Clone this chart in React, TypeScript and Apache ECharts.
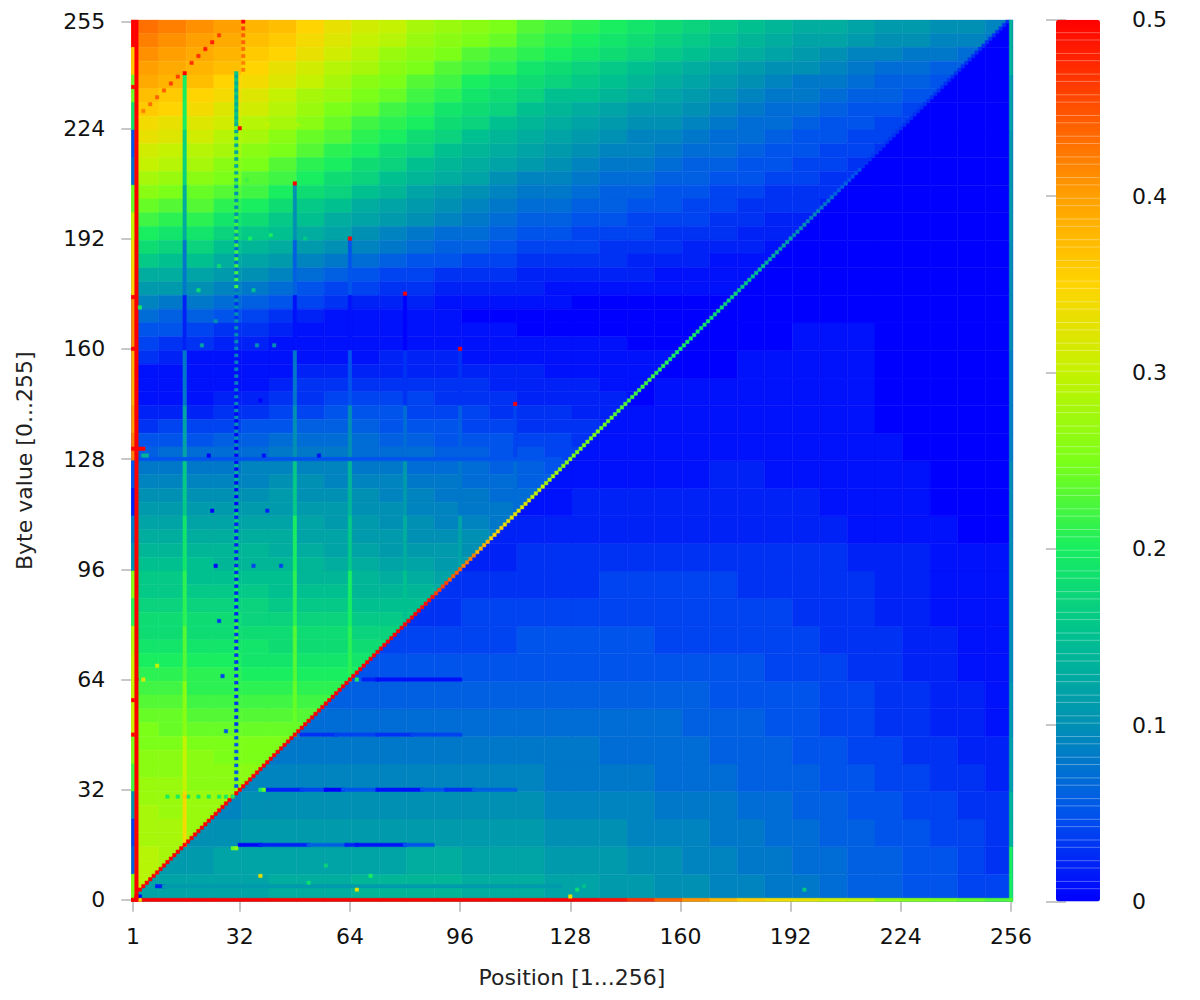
import React, { useEffect, useRef } from "react";
import * as echarts from "echarts";

const xTickLabels = [1, 32, 64, 96, 128, 160, 192, 224, 256];
const yTickLabels = [0, 32, 64, 96, 128, 160, 192, 224, 255];
const colorStops = ["#0000ff", "#0054ec", "#0090b4", "#00c090", "#18ee60", "#7cff18", "#c4f200", "#ffd400", "#ffa000", "#ff5000", "#ff0000"];

// Values are read in hundredths. Each row holds 8-position-wide cells; rows run from byte 252 down to byte 0 in steps of 4.
const upperRows = [
  [43,42,41,40,38,37,35,33,31,30,28,27,26,25,23,22,21,20,19,18,17,16,15,14,13,13,12,11,11,10,10,9],
  [42,41,40,39,37,36,34,32,30,29,27,26,25,24,22,21,20,19,18,17,16,15,14,13,12,12,11,10,10,9,9,8],
  [41,40,39,38,36,35,33,31,29,27,26,25,23,22,21,20,19,18,17,16,15,14,13,12,11,10,9,9,8,8,7],
  [40,39,38,37,35,33,31,29,28,26,25,23,22,21,19,18,17,16,15,14,13,12,11,10,10,9,8,7,7,6,6],
  [39,38,37,35,34,32,30,28,26,25,23,22,20,19,18,17,16,15,14,13,12,11,10,9,8,8,7,6,6,5],
  [37,36,35,34,32,30,28,27,25,24,22,21,19,18,17,15,15,14,13,12,11,10,9,8,8,7,6,6,5,5],
  [36,35,34,32,31,29,27,25,24,22,21,19,18,17,15,14,13,12,11,11,10,9,8,7,7,6,5,5,4],
  [34,33,32,31,29,28,26,24,22,21,20,18,17,15,14,13,12,11,10,10,9,8,7,7,6,5,5,4,4],
  [33,32,31,29,28,26,24,23,21,20,18,17,15,14,13,12,11,10,9,9,8,7,7,6,5,5,4,4],
  [31,30,29,28,26,25,23,21,20,18,17,15,14,13,12,11,10,9,9,8,7,7,6,5,5,4,4,3],
  [30,29,28,26,25,23,21,20,18,17,15,14,13,12,11,10,9,8,8,7,6,6,5,5,4,4,3],
  [28,27,26,25,23,22,20,18,17,15,14,13,12,10,9,9,8,7,7,6,6,5,5,4,4,3,3],
  [26,25,24,23,22,20,18,17,15,14,12,11,10,9,8,8,7,6,6,5,5,4,4,3,3,3],
  [24,23,23,21,20,18,16,15,13,12,11,10,9,8,7,7,6,6,5,5,4,4,3,3,3,2],
  [22,21,21,19,18,16,15,13,12,11,10,9,8,7,6,6,5,5,4,4,4,3,3,2,2],
  [20,19,19,17,16,15,13,12,10,9,8,7,7,6,5,5,4,4,4,3,3,3,2,2,2],
  [18,17,17,15,14,13,11,10,9,8,7,6,6,5,4,4,4,3,3,3,2,2,2,1],
  [16,15,15,13,12,11,9,8,7,6,5,5,4,4,3,3,3,3,2,2,2,1,1,1],
  [13,13,12,11,10,9,7,6,5,4,4,3,3,3,2,2,2,2,2,1,1,1,1],
  [11,11,10,9,8,7,5,4,4,3,3,2,2,2,2,1,1,1,1,1,1,1,1],
  [9,8,8,7,6,5,4,3,2,2,2,1,1,1,1,1,0,0,0,0,0,0],
  [7,6,6,5,4,3,2,1,1,1,1,1,0,0,0,0,0,0,0,0,0,0],
  [5,5,4,3,3,2,1,1,1,1,1,1,1,1,0,0,0,0,0,0,0],
  [4,3,3,2,2,1,1,1,1,1,1,1,1,1,1,1,1,1,0,0,0],
  [3,2,1,1,1,1,1,1,1,2,2,2,1,1,1,1,1,1,1,1],
  [1,1,1,1,1,1,2,2,2,2,2,2,2,2,2,1,1,1,1,1],
  [1,1,1,1,1,2,3,3,3,3,3,3,3,2,2,2,2,1,1],
  [1,1,1,2,2,3,3,4,4,4,4,3,3,3,2,2,2,2,1],
  [2,2,2,3,3,4,4,5,5,5,4,4,4,3,3,3,2,2],
  [3,4,4,4,5,5,6,6,6,5,5,5,4,4,3,3,3,2],
  [5,5,5,6,6,7,7,7,7,6,6,5,5,5,4,4,3],
  [6,7,7,7,7,8,8,8,7,7,7,6,6,5,5,4,4],
  [8,8,8,8,9,9,9,9,8,8,7,7,7,6,6,5],
  [9,9,9,9,9,10,10,9,9,9,8,8,7,7,6,6],
  [10,10,10,10,10,11,10,10,10,9,9,8,8,7,7],
  [11,11,11,11,11,11,11,11,10,10,9,9,8,8,7],
  [12,12,12,12,12,12,12,11,11,10,10,9,9,8],
  [13,13,13,13,13,13,12,12,11,11,10,10,10,9],
  [14,14,14,14,14,13,13,12,12,11,11,11,10],
  [15,15,15,14,14,14,14,13,13,12,12,11,11],
  [16,16,15,15,15,15,14,14,14,13,13,12],
  [16,16,16,16,16,15,15,15,14,14,14,13],
  [17,17,17,17,17,16,16,16,15,15,15],
  [18,18,18,18,17,17,17,17,16,16,16],
  [18,18,18,18,18,18,18,18,17,17],
  [19,19,19,19,19,18,18,18,18,18],
  [20,20,20,20,19,19,19,19,19],
  [21,21,21,21,20,20,20,20,20],
  [22,22,21,21,21,21,21,21],
  [23,23,22,22,22,22,22,22],
  [24,24,23,23,23,23,23],
  [25,24,24,24,24,24,24],
  [25,25,25,25,25,25],
  [26,26,26,25,25,25],
  [26,26,26,26,26],
  [27,27,26,26,26],
  [27,27,27,27],
  [28,27,27,27],
  [28,28,27],
  [28,28,28],
  [29,28],
  [29,28],
  [29],
  [29],
];

// Row r covers bytes 8r..8r+7 and starts at the cell holding positions 8r+1..8r+8.
const lowerRows = [
  [12,12,12,12,12,13,13,13,14,14,14,14,13,13,13,12,12,11,11,10,10,9,9,8,8,7,6,6,5,5,4,4],
  [11,11,12,12,12,12,12,12,12,13,13,12,12,12,11,11,11,10,10,9,9,8,8,7,7,6,6,5,5,4,3],
  [10,10,11,11,11,11,11,11,11,11,11,11,11,10,10,10,9,9,9,8,8,7,7,6,6,5,5,4,4,3],
  [9,10,10,10,10,10,10,10,10,10,10,10,9,9,9,9,8,8,8,7,7,6,6,5,5,4,4,3,3],
  [9,9,9,9,9,9,9,9,9,9,9,8,8,8,8,7,7,7,6,6,6,5,5,4,4,3,3,2],
  [8,8,8,8,8,8,8,8,8,8,8,8,7,7,7,7,6,6,6,5,5,4,4,3,3,2,2],
  [7,7,7,7,7,7,7,7,7,7,7,7,7,7,6,6,6,5,5,4,4,3,3,2,2,1],
  [6,6,6,6,6,6,6,6,6,6,6,6,6,6,5,5,5,5,4,4,3,3,2,2,1],
  [5,5,5,5,5,5,5,5,5,5,5,5,5,5,5,4,4,4,3,3,2,2,1,1],
  [4,4,4,4,4,5,5,5,5,5,4,4,4,4,4,4,3,3,3,2,2,1,1],
  [3,3,4,4,4,4,4,4,4,4,4,4,4,4,3,3,3,2,2,1,1,1],
  [3,3,3,3,3,3,4,4,4,4,4,3,3,3,3,3,2,2,1,1,1],
  [2,2,3,3,3,3,3,3,3,3,3,3,3,3,2,2,2,1,1,1],
  [2,2,2,2,2,2,2,2,2,2,2,2,2,1,1,1,1,0,0],
  [1,1,2,2,2,2,2,2,2,2,2,1,1,1,1,0,0,0],
  [1,1,1,1,1,1,2,2,1,1,1,1,1,1,0,0,0],
  [1,1,1,1,1,1,1,1,1,1,1,1,0,0,0,0],
  [1,1,1,1,1,1,1,1,1,1,0,0,0,0,0],
  [0,1,1,1,1,1,1,1,1,0,0,0,0,0],
  [0,0,0,1,1,1,1,1,0,0,0,0,0],
  [0,0,0,0,1,1,1,0,0,0,0,0],
  [0,0,0,0,0,0,0,0,0,0,0],
  [0,0,0,0,0,0,0,0,0,0],
  [0,0,0,0,0,0,0,0,0],
  [0,0,0,0,0,0,0,0],
  [0,0,0,0,0,0,0],
  [0,0,0,0,0,0],
  [0,0,0,0,0],
  [0,0,0,0],
  [0,0,0],
  [0,0],
  [0],
];

// One value per 4 positions along the main diagonal.
const diagonalValues = [50,50,50,50,50,50,50,50,50,50,50,50,50,50,50,50,50,50,50,50,50,49,46,44,42,38,35,33,32,30,28,26,25,25,24,23,22,22,21,20,20,19,18,17,16,15,13,12,10,9,8,6,5,3,3,3,3,3,3,3,3,3,3,3];
// One value per 8 positions along byte 0.
const bottomRowValues = [50,50,50,50,50,50,50,50,50,50,50,50,50,50,50,50,50,49,47,44,41,38,36,34,33,31,30,27,26,25,24,23];
// One value per 8 bytes, from the top of position 1.
const firstColumnValues = [50,36,24,18,5,7,24,30,34,35,41,41,38,38,40,42,5,2,8,10,26,21,29,31,30,31,25,22,10,4,6,25];
// One value per 16 bytes, from byte 0 of position 256.
const lastColumnValues = [20,14,12,11,10,10,10,10,9,9,10,10,11,11,12,14];

const verticalLine16 = [20,17,13,8,2,8,12,16,19,21,23,26,30,34,31];
const verticalLine48 = [10,6,1,8,10,16,20,21,23,24,24];
const verticalLine64 = [5,1,5,10,14,16,20,21,21];
const verticalLine80 = [0,3,7,11,13,15,16];
const verticalLine96 = [3,6,8,12,13];
const verticalLine112 = [4,7,10];
// Position 31 alternates byte by byte; one value per 16 bytes, from byte 240 down.
const dottedLineDark = [13,12,10,7,3,1,0,0,2,2,3,3,5,6];
const dottedLineBright = [16,25,22,22,10,9,10,14,17,20,22,23,25,27];

// [first position, last position, byte, value]
const horizontalRuns = [
  [3,40,128,5],[40,125,128,5],
  [68,72,64,2],[72,96,64,1],
  [50,60,48,3],[60,72,48,4],[72,82,48,3],[82,96,48,4],
  [40,50,32,2],[50,57,32,4],[57,62,32,0],[62,72,32,5],[72,85,32,1],[85,92,32,5],[92,100,32,3],[100,112,32,6],
  [32,38,16,0],[38,52,16,2],[52,63,16,6],[63,66,16,2],[66,80,16,1],[80,88,16,5],
  [8,10,4,2],[10,125,4,11],
  [2,2,1,50],[2,2,64,50],
];
// Position 2 is solid red from byte 1 up.
const secondColumnValue = 50;

// [position, byte, value]
const strayDots = [
  [16,240,50],[32,224,50],[48,208,50],[64,192,50],[80,176,50],[96,160,50],[112,144,50],
  [4,229,42],[6,231,43],[8,233,44],[10,235,44],[12,237,46],[14,239,46],[18,243,47],[20,245,47],[22,247,48],[24,249,48],[26,251,46],[28,253,40],
  [33,241,42],[33,243,42],[33,245,43],[33,247,43],[33,249,44],[33,251,44],[33,253,46],[33,255,50],
  [40,225,30],[34,209,22],[49,225,28],[35,192,20],[41,193,20],[51,192,16],[26,184,18],[20,177,18],[36,177,15],
  [21,161,12],[37,161,10],[42,161,10],[25,168,10],[38,145,0],[23,129,0],[39,129,1],[55,129,1],[24,113,0],[40,113,2],[25,97,0],[36,97,4],[44,97,4],
  [26,81,3],[27,65,4],[28,49,5],[8,68,30],[4,64,32],
  [38,7,33],[66,3,33],[30,15,24],[31,15,26],[70,7,20],[52,5,18],[57,10,17],[66,64,20],[38,32,20],[39,32,24],
  [128,1,33],[130,3,18],[132,4,15],[196,3,16],
  [11,30,20],[14,30,20],[17,30,20],[16,30,36],[20,30,20],[23,30,20],[26,30,20],[28,30,20],[30,30,20],
  [1,236,50],[1,175,50],[1,160,50],[1,131,50],[1,58,50],[1,48,50],[1,0,50],
  [3,172,20],[3,131,50],[4,131,50],[4,129,14],[5,129,14],[3,1,0],[3,0,33],[2,0,50],[2,1,50],
];

const cellRows: number[][] = [];
const addCell = (x0: number, x1: number, y0: number, y1: number, v: number, side = 0) => cellRows.push([x0, x1, y0, y1, v / 100, side]);

upperRows.forEach((row, i) => {
  const byte = 252 - i * 4;
  row.forEach((v, c) => addCell(c * 8, c * 8 + 8, byte, byte + 4, v, 1));
});
lowerRows.forEach((row, r) => {
  row.forEach((v, k) => addCell((r + k) * 8, (r + k) * 8 + 8, r * 8, r * 8 + 8, v, -1));
});
const addVerticalLine = (pos: number, values: number[]) => {
  const top = 256 - pos;
  values.forEach((v, i) => {
    const y1 = top - i * 16;
    const y0 = Math.max(pos, y1 - 16);
    if (y1 > y0) addCell(pos - 1, pos, y0, y1, v);
  });
};
addVerticalLine(16, verticalLine16);
addVerticalLine(48, verticalLine48);
addVerticalLine(64, verticalLine64);
addVerticalLine(80, verticalLine80);
addVerticalLine(96, verticalLine96);
addVerticalLine(112, verticalLine112);
for (let byte = 240; byte >= 32; byte--) {
  const k = Math.min(13, Math.floor((240 - byte) / 16));
  addCell(30, 31, byte, byte + 1, byte % 2 === 0 ? dottedLineBright[k] : dottedLineDark[k]);
}
horizontalRuns.forEach(([a, b, byte, v]) => addCell(a - 1, b, byte, byte + 1, v));
for (let p = 3; p <= 255; p++) addCell(p - 1, p, p, p + 1, diagonalValues[Math.floor((p - 1) / 4)]);
firstColumnValues.forEach((v, i) => addCell(0, 1, 248 - i * 8, 256 - i * 8, v));
addCell(1, 2, 1, 256, secondColumnValue);
lastColumnValues.forEach((v, i) => addCell(255, 256, i * 16, i * 16 + 16, v));
bottomRowValues.forEach((v, i) => addCell(i * 8, i * 8 + 8, 0, 1, v));
strayDots.forEach(([p, byte, v]) => addCell(p - 1, p, byte, byte + 1, v));

// Keep only the part of a cell on one side of the line y = x + 1.
function clipCell(x0: number, x1: number, y0: number, y1: number, side: number): number[][] {
  const corners = [[x0, y0], [x1, y0], [x1, y1], [x0, y1]];
  if (!side) return corners;
  const f = (p: number[]) => side * (p[1] - p[0] - 1);
  const out: number[][] = [];
  corners.forEach((a, i) => {
    const b = corners[(i + 1) % 4];
    const fa = f(a), fb = f(b);
    if (fa >= 0) out.push(a);
    if (fa * fb < 0) {
      const t = fa / (fa - fb);
      out.push([a[0] + (b[0] - a[0]) * t, a[1] + (b[1] - a[1]) * t]);
    }
  });
  return out;
}

const stripeValues: number[][] = [];
for (let py = 12; py < 900; py += 20.7) {
  [py, py + 7.3].forEach((q) => {
    const v = (901.4 - q) / 881.6 * 0.5;
    if (v > 0.002 && v < 0.498) stripeValues.push([0, v]);
  });
}

const GRAY = "#b4b4b4";
const FONT = "DejaVu Sans";
const tickLine = { lineStyle: { color: GRAY, width: 1.5 } };

export default function App() {
  const ref = useRef<HTMLDivElement>(null);
  useEffect(() => {
    const chart = echarts.init(ref.current!, null, { renderer: "svg" });
    const xVals = xTickLabels.map((v) => v - 0.5);
    const yVals = yTickLabels.map((v) => v + 0.5);
    const plainAxis = { min: 0, max: 256, type: "value" as const, splitLine: { show: false }, axisLine: { show: false } };
    chart.setOption({
      animation: false,
      backgroundColor: "#ffffff",
      grid: [
        { left: 131.3, top: 19.8, width: 881.4, height: 881.9 },
        { left: 1056, top: 19.8, width: 44, height: 881.6 },
      ],
      xAxis: [
        {
          ...plainAxis,
          gridIndex: 0,
          position: "bottom",
          name: "Position [1...256]",
          nameLocation: "middle",
          nameGap: 65,
          nameTextStyle: { fontFamily: FONT, fontSize: 22, color: "#222" },
          axisTick: { show: true, length: 10, customValues: xVals, ...tickLine },
          axisLabel: { show: true, customValues: xVals, margin: 24, fontFamily: FONT, fontSize: 22, color: "#111", formatter: (v: number) => String(Math.round(v + 0.5)) },
        },
        {
          ...plainAxis,
          gridIndex: 0,
          position: "top",
          axisTick: { show: true, length: 10, customValues: xVals, ...tickLine },
          axisLabel: { show: false },
        },
        { type: "value", gridIndex: 1, min: 0, max: 1, show: false },
      ],
      yAxis: [
        {
          ...plainAxis,
          gridIndex: 0,
          position: "left",
          name: "Byte value [0...255]",
          nameLocation: "middle",
          nameGap: 96,
          nameTextStyle: { fontFamily: FONT, fontSize: 22, color: "#222" },
          axisTick: { show: true, length: 10, customValues: yVals, ...tickLine },
          axisLabel: { show: true, customValues: yVals, margin: 26, fontFamily: FONT, fontSize: 22, color: "#111", formatter: (v: number) => String(Math.round(v - 0.5)) },
        },
        {
          ...plainAxis,
          gridIndex: 0,
          position: "right",
          axisTick: { show: true, length: 10, customValues: yVals, ...tickLine },
          axisLabel: { show: false },
        },
        {
          type: "value",
          gridIndex: 1,
          position: "right",
          min: 0,
          max: 0.5,
          interval: 0.1,
          splitLine: { show: false },
          axisLine: { show: false },
          axisTick: { show: true, length: 10, ...tickLine },
          axisLabel: { show: true, margin: 32, fontFamily: FONT, fontSize: 22, color: "#111" },
        },
        {
          type: "value",
          gridIndex: 1,
          position: "left",
          min: 0,
          max: 0.5,
          interval: 0.1,
          splitLine: { show: false },
          axisLine: { show: false },
          axisTick: { show: true, length: 10, ...tickLine },
          axisLabel: { show: false },
        },
      ],
      visualMap: {
        type: "continuous",
        seriesIndex: 0,
        dimension: 4,
        min: 0,
        max: 0.5,
        calculable: false,
        hoverLink: false,
        orient: "vertical",
        left: 1056,
        top: 19.8,
        padding: 0,
        itemWidth: 44,
        itemHeight: 881.6,
        inRange: { color: colorStops },
        textStyle: { fontSize: 0 },
      },
      series: [
        {
          type: "custom",
          xAxisIndex: 0,
          yAxisIndex: 0,
          clip: true,
          silent: true,
          data: cellRows,
          encode: { x: [0, 1], y: [2, 3] },
          renderItem: (params: any, api: any) => {
            const pts = clipCell(api.value(0), api.value(1), api.value(2), api.value(3), api.value(5));
            if (pts.length < 3) return null;
            const color = api.visual("color");
            return {
              type: "polygon",
              shape: { points: pts.map((p) => api.coord(p)) },
              style: { fill: color, stroke: color, lineWidth: 0.5 },
            };
          },
        },
        {
          type: "custom",
          xAxisIndex: 2,
          yAxisIndex: 2,
          z: 10,
          silent: true,
          data: stripeValues,
          encode: { x: 0, y: 1 },
          renderItem: (params: any, api: any) => {
            const a = api.coord([0, api.value(1)]);
            const b = api.coord([1, api.value(1)]);
            return {
              type: "line",
              shape: { x1: a[0], y1: a[1], x2: b[0], y2: b[1] },
              style: { stroke: "rgba(255,255,255,0.32)", lineWidth: 1 },
            };
          },
        },
      ],
    });
    return () => chart.dispose();
  }, []);
  return <div ref={ref} style={{ position: "absolute", left: 0, top: 0, width: 1200, height: 1000 }} />;
}
